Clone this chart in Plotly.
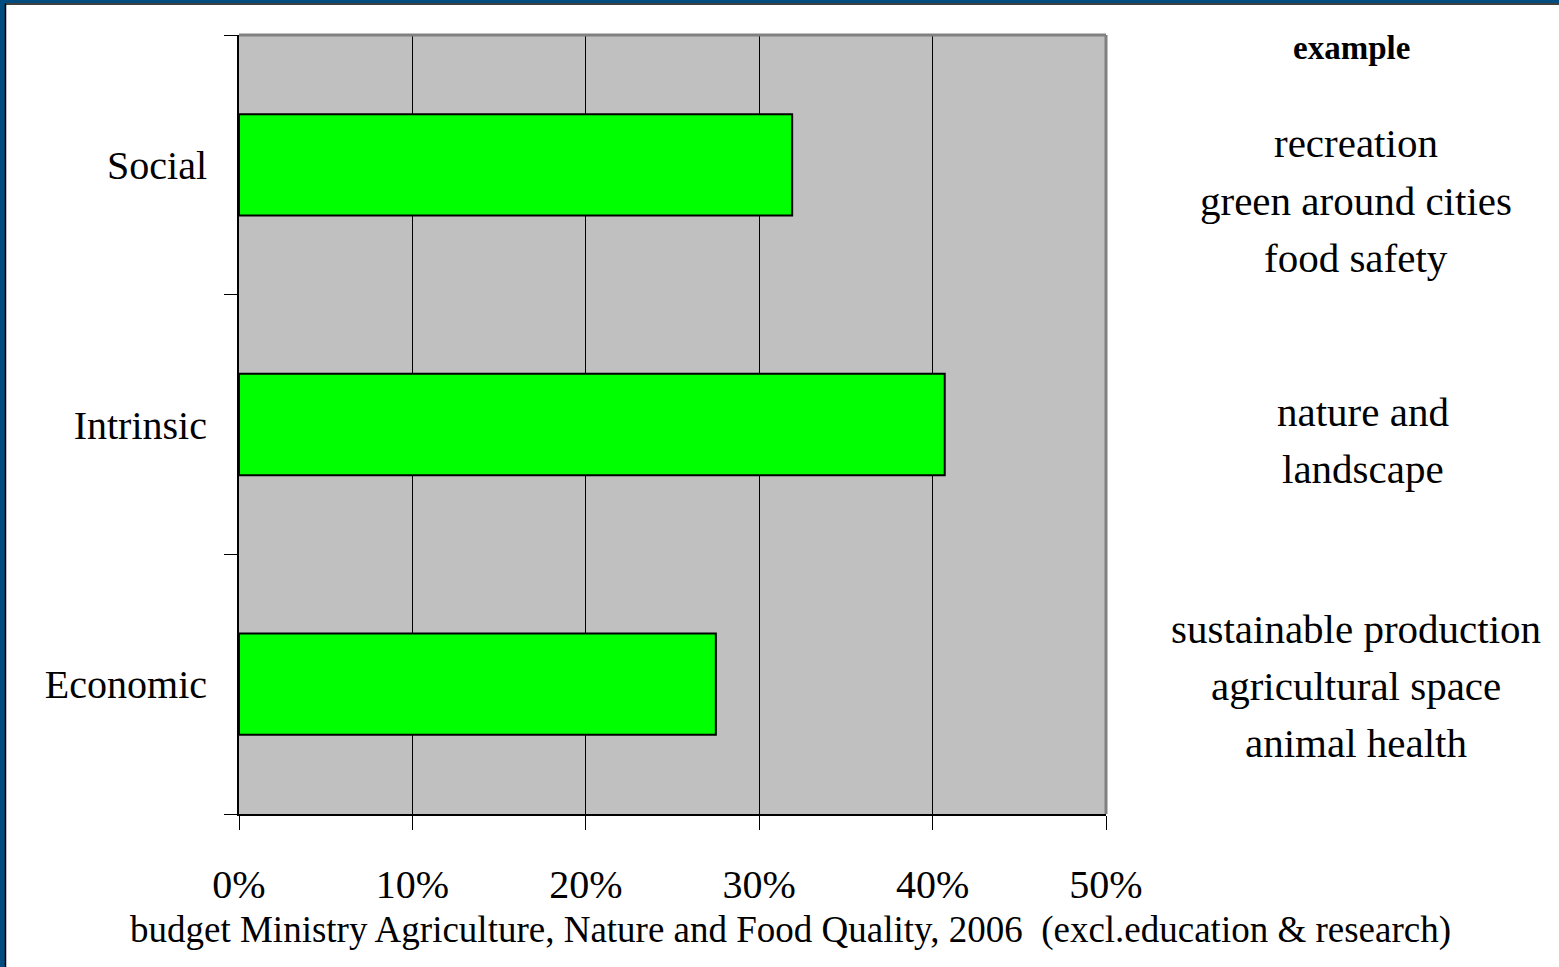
import plotly.graph_objects as go

categories = ["Economic", "Intrinsic", "Social"]
values = [27.5, 40.7, 31.9]
x_ticks = [0, 10, 20, 30, 40, 50]
x_tick_labels = ["0%", "10%", "20%", "30%", "40%", "50%"]
header = "example"
examples = [
    (["sustainable production", "agricultural space", "animal health"], 1356, [629, 686, 743]),
    (["nature and", "landscape"], 1363, [412, 469]),
    (["recreation", "green around cities", "food safety"], 1356, [143, 201, 258]),
]
caption = "budget Ministry Agriculture, Nature and Food Quality, 2006  (excl.education &amp; research)"

W, H = 1559, 967
L, R, T, B = 239, 1106, 35, 814
FONT = "Liberation Serif"

def px(x):
    return (x - L) / (R - L)

def py(y):
    return (B - y) / (B - T)

fig = go.Figure()
fig.add_trace(go.Bar(
    y=categories, x=values, orientation="h", width=0.39,
    marker=dict(color="#00FF00", line=dict(color="black", width=2)),
    hoverinfo="x+y",
))

annotations = [dict(text="<b>" + header + "</b>", x=px(1351), y=py(48), xref="paper", yref="paper",
                    showarrow=False, font=dict(family=FONT, size=33, color="black"),
                    xanchor="center", yanchor="middle")]
for lines, cx, ys in examples:
    for t, yy in zip(lines, ys):
        annotations.append(dict(text=t, x=px(cx), y=py(yy), xref="paper", yref="paper",
                                showarrow=False, font=dict(family=FONT, size=41, color="black"),
                                xanchor="center", yanchor="middle"))
annotations.append(dict(text=caption, x=px(790), y=py(930), xref="paper", yref="paper",
                        showarrow=False, font=dict(family=FONT, size=37, color="black"),
                        xanchor="center", yanchor="middle"))

shapes = [
    dict(type="line", xref="paper", yref="paper", x0=0, x1=1, y0=1, y1=1,
         line=dict(color="#808080", width=3)),
    dict(type="line", xref="paper", yref="paper", x0=1, x1=1, y0=0, y1=1,
         line=dict(color="#808080", width=3)),
    dict(type="rect", xref="paper", yref="paper", x0=px(0), x1=px(5), y0=py(H), y1=py(0),
         fillcolor="#004C7F", line=dict(width=0)),
    dict(type="rect", xref="paper", yref="paper", x0=px(0), x1=px(W), y0=py(3), y1=py(0),
         fillcolor="#004C7F", line=dict(width=0)),
    dict(type="line", xref="paper", yref="paper", x0=px(5.5), x1=px(5.5), y0=py(H), y1=py(3.5),
         line=dict(color="black", width=1.5)),
    dict(type="line", xref="paper", yref="paper", x0=px(5), x1=px(W), y0=py(4), y1=py(4),
         line=dict(color="black", width=1.5)),
]

fig.update_layout(
    width=W, height=H,
    margin=dict(l=L, r=W - R, t=T, b=H - B, pad=0),
    paper_bgcolor="white", plot_bgcolor="#C0C0C0",
    showlegend=False,
    annotations=annotations,
    shapes=shapes,
    xaxis=dict(range=[0, 50], tickvals=x_ticks, ticktext=x_tick_labels,
               showgrid=True, gridcolor="black", gridwidth=1, zeroline=False,
               showline=True, linecolor="black", linewidth=2,
               ticks="outside", ticklen=14, tickcolor="black", tickwidth=1,
               ticklabelstandoff=20,
               tickfont=dict(family=FONT, size=40, color="black")),
    yaxis=dict(categoryorder="array", categoryarray=categories,
               showline=True, linecolor="black", linewidth=2,
               ticks="outside", ticklen=13, tickcolor="black", tickwidth=1,
               tickson="boundaries", showgrid=False, zeroline=False,
               ticklabelstandoff=22,
               tickfont=dict(family=FONT, size=40, color="black")),
)

fig.write_html("out.html", config={"displayModeBar": False},
               post_script="document.body.style.margin='0px';")
